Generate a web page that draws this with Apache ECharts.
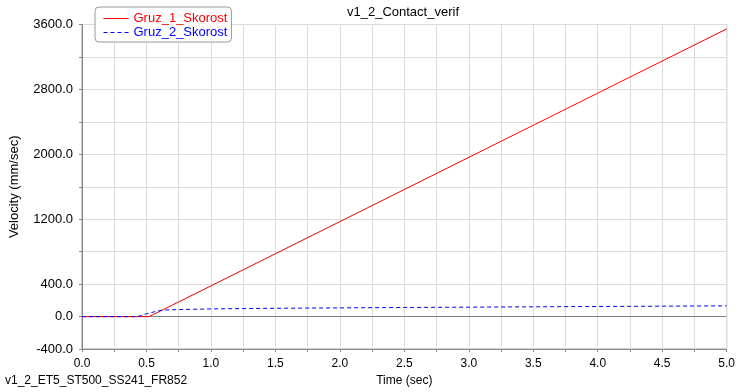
<!DOCTYPE html>
<html>
<head>
<meta charset="utf-8">
<script src="https://cdn.jsdelivr.net/npm/echarts@6/dist/echarts.min.js"></script>
<style>
  html, body { margin: 0; padding: 0; background: #fff; }
  #chart { width: 738px; height: 392px; }
</style>
</head>
<body>
<div id="chart"></div>
<script>
// Velocity traces (time in sec, velocity in mm/sec)
const gruz1Time = [0, 0.52, 5.0];
const gruz1Vel  = [0, 0, 3545];

const gruz2Time = [0, 0.43, 0.5, 0.55, 0.6, 0.65, 0.8, 1.0, 1.5, 2.0, 2.5, 3.0, 3.5, 4.0, 4.5, 5.0];
const gruz2Vel  = [0, 0, 35, 55, 75, 83, 89, 95, 103, 108, 113, 117, 121, 125, 129, 133];

const seriesNames = ['Gruz_1_Skorost', 'Gruz_2_Skorost'];
const yTickLabels = [3600, 2800, 2000, 1200, 400, 0, -400];
const xTickLabels = [0, 0.5, 1.0, 1.5, 2.0, 2.5, 3.0, 3.5, 4.0, 4.5, 5.0];

const chartTitle = 'v1_2_Contact_verif';
const runLabel = 'v1_2_ET5_ST500_SS241_FR852';
const xName = 'Time (sec)';
const yName = 'Velocity (mm/sec)';

const FONT = '"Liberation Sans", Arial, sans-serif';
const pairs = (xs, ys) => xs.map((x, i) => [x, ys[i]]);

const chart = echarts.init(document.getElementById('chart'), null, { renderer: 'canvas' });

chart.setOption({
  animation: false,
  backgroundColor: '#ffffff',
  textStyle: { fontFamily: FONT },
  grid: {
    left: 79, right: 11, top: 24.5, bottom: 42,
    show: true, borderColor: '#8a8a8a', borderWidth: 1, backgroundColor: 'transparent'
  },
  legend: {
    orient: 'vertical',
    left: 95, top: 7,
    padding: [5, 4, 3, 8],
    itemGap: 1,
    itemWidth: 25, itemHeight: 14,
    backgroundColor: '#ffffff',
    borderColor: '#9a9a9a', borderWidth: 1, borderRadius: 4,
    itemStyle: { opacity: 0 },
    lineStyle: { width: 1 },
    textStyle: { fontFamily: FONT, fontSize: 13 },
    data: [
      { name: seriesNames[0], textStyle: { color: '#ff0000' } },
      { name: seriesNames[1], textStyle: { color: '#0000ff' } }
    ]
  },
  xAxis: {
    type: 'value', min: 0, max: 5, interval: 0.25,
    name: xName, nameLocation: 'middle', nameGap: 24,
    nameTextStyle: { color: '#000', fontSize: 12, fontFamily: FONT },
    axisLine: { onZero: false, lineStyle: { color: '#8a8a8a' } },
    axisTick: { show: true, length: 3, lineStyle: { color: '#8a8a8a' } },
    axisLabel: {
      color: '#000', fontSize: 12, fontFamily: FONT, margin: 9,
      formatter: v => xTickLabels.some(t => Math.abs(t - v) < 1e-6) ? v.toFixed(1) : ''
    },
    splitLine: { show: true, lineStyle: { color: '#dcdcdc', width: 1 } }
  },
  yAxis: {
    type: 'value', min: -400, max: 3600, interval: 400,
    name: yName, nameLocation: 'middle', nameGap: 61, nameRotate: 90,
    nameTextStyle: { color: '#000', fontSize: 13, fontFamily: FONT },
    axisLine: { show: true, lineStyle: { color: '#8a8a8a' } },
    axisTick: { show: true, length: 3, lineStyle: { color: '#8a8a8a' } },
    axisLabel: {
      color: '#000', fontSize: 13, fontFamily: FONT, margin: 9,
      formatter: v => yTickLabels.indexOf(v) >= 0 ? v.toFixed(1) : ''
    },
    splitLine: { show: true, lineStyle: { color: '#dcdcdc', width: 1 } }
  },
  series: [
    {
      name: seriesNames[0], type: 'line', symbol: 'none',
      data: pairs(gruz1Time, gruz1Vel),
      lineStyle: { color: '#ff0000', width: 1 },
      itemStyle: { color: '#ff0000' },
      z: 3,
      markLine: {
        silent: true, symbol: 'none', label: { show: false },
        lineStyle: { color: '#808080', width: 1, type: 'solid' },
        data: [{ yAxis: 0 }],
        z: 1
      }
    },
    {
      name: seriesNames[1], type: 'line', symbol: 'none',
      data: pairs(gruz2Time, gruz2Vel),
      lineStyle: { color: '#0000ff', width: 1, type: [4, 3] },
      itemStyle: { color: '#0000ff' },
      z: 4
    }
  ],
  graphic: [
    {
      type: 'text', x: 403, y: 6,
      style: { text: chartTitle, fill: '#000', font: '13px ' + FONT, textAlign: 'center' }
    },
    {
      type: 'text', x: 5, y: 375,
      style: { text: runLabel, fill: '#000', font: '12px ' + FONT }
    }
  ]
});
</script>
</body>
</html>
